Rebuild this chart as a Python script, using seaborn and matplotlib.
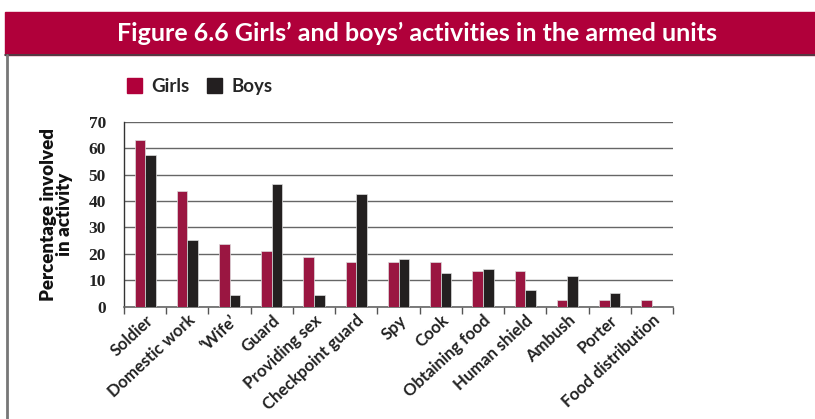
import pandas as pd
import seaborn as sns
import matplotlib.pyplot as plt
from matplotlib.patches import Rectangle, Patch

activities = ['Soldier', 'Domestic work', '\u2018Wife\u2019', 'Guard', 'Providing sex',
              'Checkpoint guard', 'Spy', 'Cook', 'Obtaining food', 'Human shield',
              'Ambush', 'Porter', 'Food distribution']
girls = [63.2, 43.9, 23.8, 21.2, 18.7, 16.8, 16.8, 16.8, 13.5, 13.5, 2.5, 2.5, 2.5]
boys = [57.4, 25.1, 4.4, 46.4, 4.4, 42.5, 18.0, 12.9, 14.1, 6.3, 11.6, 5.0, 0.0]
yticks = [0, 10, 20, 30, 40, 50, 60, 70]

red = '#B0003A'
black = '#231F20'

df = pd.DataFrame({'activity': activities * 2,
                   'value': girls + boys,
                   'sex': ['Girls'] * len(girls) + ['Boys'] * len(boys)})

sns.set_style('white')
plt.rcParams['font.family'] = ['Lato', 'DejaVu Sans']

fig = plt.figure(figsize=(8.15, 4.19), dpi=100)
ax = fig.add_axes([124 / 815, 0.268, 549 / 815, 0.4415])

sns.barplot(data=df, x='activity', y='value', hue='sex', order=activities,
            hue_order=['Girls', 'Boys'], palette=[red, black], width=0.5,
            edgecolor='#dddddd', linewidth=0.5, ax=ax, legend=False, zorder=3)

ax.set_xlim(-0.5, len(activities) - 0.5)
ax.set_ylim(0, 70)
ax.set_yticks(yticks)
ax.set_yticklabels([str(t) for t in yticks], family='Liberation Serif',
                   fontweight='bold', fontsize=12.5, color='#222222')
ax.yaxis.grid(True, color='#666666', linewidth=1.0, zorder=0)
ax.tick_params(axis='y', length=0, pad=13)

ax.set_xticks(range(len(activities)))
ax.set_xticklabels(activities, rotation=43, ha='right', rotation_mode='anchor',
                   fontweight='bold', fontsize=12, color='#222222')
ax.tick_params(axis='x', which='major', length=0, pad=4)
ax.set_xticks([i - 0.5 for i in range(len(activities) + 1)], minor=True)
ax.tick_params(axis='x', which='minor', length=5, width=1, color='#555555',
               direction='out', bottom=True)

for s in ['top', 'right']:
    ax.spines[s].set_visible(False)
ax.spines['left'].set_color('#333333')
ax.spines['left'].set_linewidth(1)
ax.spines['bottom'].set_color('#666666')
ax.spines['bottom'].set_linewidth(1.2)

ax.set_xlabel('')
ax.set_ylabel('Percentage involved\nin activity', fontweight='heavy', fontsize=13.5,
              labelpad=11, linespacing=0.95, color='#111111')

handles = [Patch(color=red, label='Girls'), Patch(color=black, label='Boys')]
ax.legend(handles=handles, loc='center left', bbox_to_anchor=(-0.025, 1.19), ncol=2,
          frameon=False, handlelength=0.8, handleheight=0.8, handletextpad=0.5,
          columnspacing=0.9, prop={'weight': 'bold', 'size': 13.5})

# title bar and frame
fig.patches.append(Rectangle((5 / 815, (419 - 55) / 419), 1, 43 / 419,
                             transform=fig.transFigure, color=red, zorder=0))
fig.add_artist(plt.Line2D([5 / 815, 1], [(419 - 55) / 419] * 2, color='#444444',
                          linewidth=1.2, transform=fig.transFigure))
fig.add_artist(plt.Line2D([6.5 / 815] * 2, [0, (419 - 55) / 419], color='#777777',
                          linewidth=2, transform=fig.transFigure))
fig.text(417 / 815, (419 - 33) / 419, 'Figure 6.6 Girls\u2019 and boys\u2019 activities in the armed units',
         ha='center', va='center', color='white', fontweight='bold', fontsize=18)

fig.savefig('out.png', dpi=100)
